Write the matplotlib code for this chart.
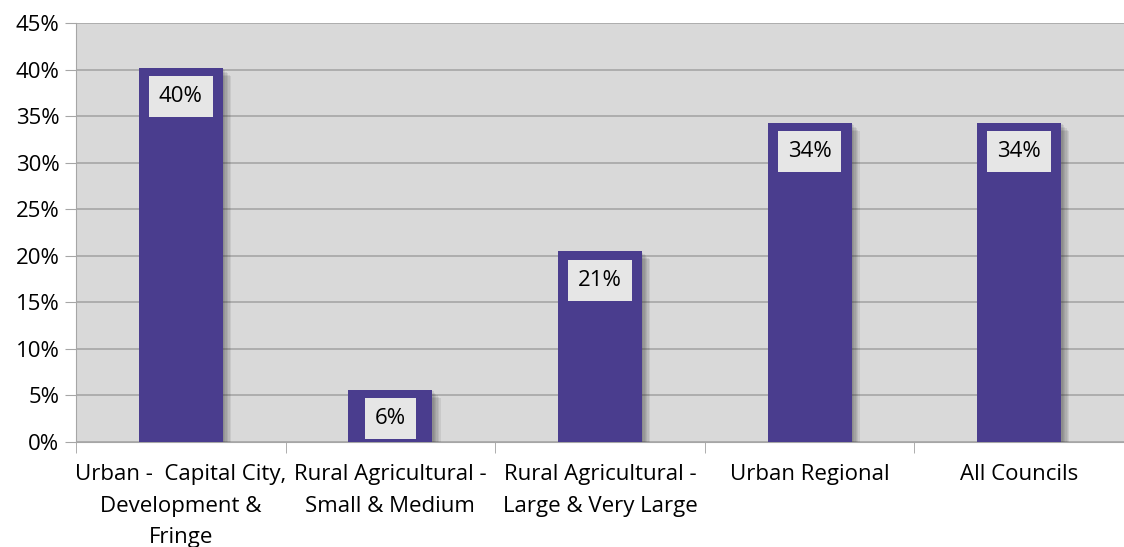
import matplotlib.pyplot as plt
import matplotlib.patheffects as pe
from matplotlib.ticker import MultipleLocator, PercentFormatter

plt.rcParams["font.family"] = ["Open Sans", "DejaVu Sans"]

categories = [
    "Urban -  Capital City,\nDevelopment &\nFringe",
    "Rural Agricultural -\nSmall & Medium",
    "Rural Agricultural -\nLarge & Very Large",
    "Urban Regional",
    "All Councils",
]
values = [40.2, 5.6, 20.5, 34.3, 34.3]
labels = ["40%", "6%", "21%", "34%", "34%"]

bar_color = "#4A3D8E"
grid_color = "#A6A6A6"

fig = plt.figure(figsize=(11.24, 5.47), dpi=100)
ax = fig.add_axes([76 / 1124, 105 / 547, 1048 / 1124, 419 / 547])
ax.set_facecolor("#D9D9D9")

# soft drop shadow: a few stacked faint offsets
shadow = [pe.SimplePatchShadow(offset=(d, -d), shadow_rgbFace="#303030", alpha=0.09)
          for d in (1, 2, 3, 4, 5, 6)]
x = range(len(categories))
bars = ax.bar(x, values, width=0.4, color=bar_color, zorder=3,
              path_effects=shadow + [pe.Normal()])

for i, (v, lab) in enumerate(zip(values, labels)):
    ax.annotate(lab, (i, v), xytext=(0, -29), textcoords="offset pixels",
                ha="center", va="center", fontsize=16, color="black", zorder=5,
                bbox=dict(boxstyle="square,pad=0.45", fc="#E6E6E6", ec="none"))

ax.set_xlim(-0.5, len(categories) - 0.5)
ax.set_ylim(0, 45)
ax.yaxis.set_major_locator(MultipleLocator(5))
ax.yaxis.set_major_formatter(PercentFormatter(decimals=0))
ax.grid(axis="y", color=grid_color, linewidth=1.2, zorder=0)
ax.set_axisbelow(True)

ax.set_xticks(x)
ax.set_xticklabels(categories, fontsize=16, linespacing=1.65)
ax.tick_params(axis="x", length=0, pad=16)
ax.set_xticks([i - 0.5 for i in range(len(categories) + 1)], minor=True)
ax.tick_params(axis="x", which="minor", length=8, color="#A0A0A0", direction="out")
ax.tick_params(axis="y", labelsize=16, length=8, color=grid_color, pad=4)

for s in ["top", "right"]:
    ax.spines[s].set_visible(False)
ax.spines["left"].set_color(grid_color)
ax.spines["bottom"].set_color(grid_color)

fig.savefig("out.png", dpi=100)
